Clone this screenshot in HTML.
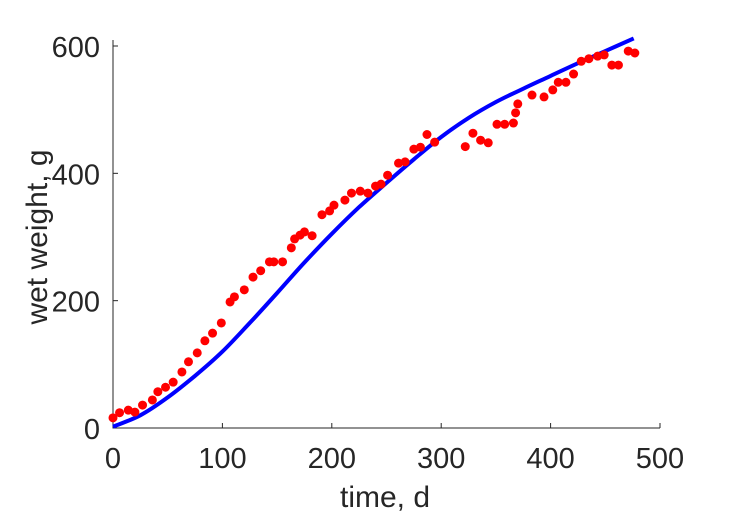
<!DOCTYPE html>
<html><head><meta charset="utf-8"><style>
html,body{margin:0;padding:0;background:#fff;}
svg{display:block;font-family:"Liberation Sans",sans-serif;}
</style></head><body>
<svg id="chart" width="729" height="521"></svg>
<script>
const obsTime=[0,6,14,20,27,36,41,48,55,63,69,77,84,91,99,107,111,120,128,135,143,147,155,163,166,171,175,182,191,198,202,212,218,226,233,240,245,251,261,267,275,281,287,294,322,329,336,343,351,358,366,368,370,383,394,402,407,414,421,428,435,443,449,456,462,471,477];
const obsWeight=[16,24,28,25,36,44,57,64,72,88,104,118,137,149,165,198,206,217,237,247,261,261,261,283,297,303,308,302,335,341,350,358,369,372,369,380,383,397,416,418,438,441,461,449,442,463,452,448,477,477,479,495,509,523,520,531,543,543,556,576,580,584,586,570,570,592,589];
const fitTime=[0,25,50,75,100,125,150,175,200,225,250,275,300,325,350,375,400,425,450,476];
const fitWeight=[2,20,48,82,120,165,212,260,305,347,385,422,457,487,512,533,553,573,592,612];
const xTicks=[0,100,200,300,400,500];
const yTicks=[0,200,400,600];
const NS="http://www.w3.org/2000/svg";
const svg=document.getElementById('chart');
const X0=113,X1=660,Y0=428,Y1=46;
const sx=v=>X0+(v-0)/500*(X1-X0);
const sy=v=>Y0-(v-0)/600*(Y0-Y1);
function mk(t,a){const e=document.createElementNS(NS,t);for(const k in a)e.setAttribute(k,a[k]);svg.appendChild(e);return e;}
let ax=mk('path',{d:`M${X0},40 L${X0},${Y0} L${X1},${Y0}`,fill:'none',stroke:'#262626','stroke-width':1});


xTicks.forEach(v=>{
  const tk=mk('line',{x1:sx(v),x2:sx(v),y1:Y0,y2:Y0-5,stroke:'#262626'});
  
  
  const t=mk('text',{x:sx(v),y:Y0+40,'text-anchor':'middle','font-size':29,fill:'#262626'});
  t.textContent=v;
  
  
});
yTicks.forEach(v=>{
  const tk=mk('line',{x1:X0,x2:X0+5,y1:sy(v),y2:sy(v),stroke:'#262626'});
  
  
  const t=mk('text',{x:X0-13,y:sy(v)+11,'text-anchor':'end','font-size':29,fill:'#262626'});
  t.textContent=v;
  
  
});
let xl=mk('text',{x:385,y:507,'text-anchor':'middle','font-size':30,fill:'#262626'});
xl.textContent='time, d';


let yl=mk('text',{x:0,y:0,'text-anchor':'middle','font-size':30,fill:'#262626',transform:'translate(47,237) rotate(-90)'});
yl.textContent='wet weight, g';


// smooth fit line (Catmull-Rom)
const P=fitTime.map((t,i)=>[sx(t),sy(fitWeight[i])]);
let d='M'+P[0][0].toFixed(1)+','+P[0][1].toFixed(1);
for(let i=0;i<P.length-1;i++){
  const p0=P[Math.max(0,i-1)],p1=P[i],p2=P[i+1],p3=P[Math.min(P.length-1,i+2)];
  const c1=[p1[0]+(p2[0]-p0[0])/6,p1[1]+(p2[1]-p0[1])/6];
  const c2=[p2[0]-(p3[0]-p1[0])/6,p2[1]-(p3[1]-p1[1])/6];
  d+=` C${c1[0].toFixed(1)},${c1[1].toFixed(1)} ${c2[0].toFixed(1)},${c2[1].toFixed(1)} ${p2[0].toFixed(1)},${p2[1].toFixed(1)}`;
}
let ln=mk('path',{d:d,fill:'none',stroke:'#0000ff','stroke-width':4,'stroke-linejoin':'round'});


obsTime.forEach((t,i)=>{
  const c=mk('circle',{cx:sx(t),cy:sy(obsWeight[i]),r:4.5,fill:'#ff0000'});
  
  
});
</script>
</body></html>
